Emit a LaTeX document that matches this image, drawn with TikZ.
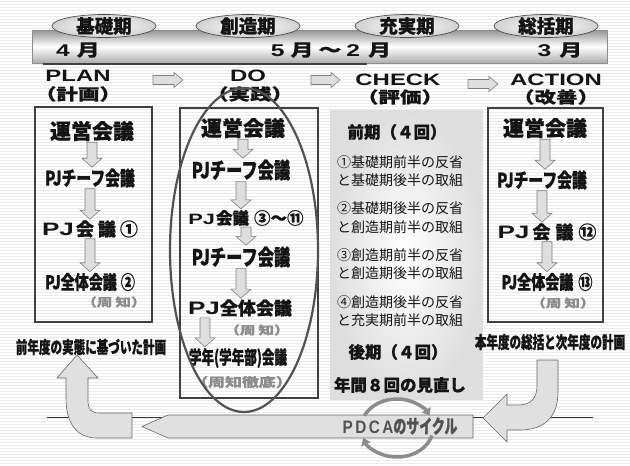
\documentclass[tikz,border=0pt]{standalone}
\usepackage{fontspec}
\usetikzlibrary{calc,arrows.meta,shapes.geometric}
\newfontfamily\jp{Noto Sans CJK JP}[BoldFeatures={FakeBold=0.8}]
\newfontfamily\jpr{Noto Sans CJK JP}
\newfontfamily\jpc{Noto Sans CJK JP}[FakeStretch=0.74, BoldFeatures={FakeBold=0.8}]
\newfontfamily\jpcc{Noto Sans CJK JP}[FakeStretch=0.68, BoldFeatures={FakeBold=0.8}]
\newfontfamily\jpw{Noto Sans CJK JP}[FakeStretch=1.35, BoldFeatures={FakeBold=0.6}]
\newfontfamily\latw{Liberation Sans}[FakeStretch=1.45]
\newfontfamily\latc{Liberation Sans}[FakeStretch=0.85]
\newcommand\blockdn[2]{\draw[barrow] let \p1=(#1), \p2=(#2) in
  (\x1-5pt,\y1-1pt) -- (\x1+5pt,\y1-1pt) -- (\x1+5pt,\y2+10pt) -- (\x1+10pt,\y2+10pt)
  -- (\x1,\y2+1pt) -- (\x1-10pt,\y2+10pt) -- (\x1-5pt,\y2+10pt) -- cycle;}
\newcommand\blockrt[2]{\draw[barrow] let \p1=(#1), \p2=(#2) in
  (\x1,\y1+4.5pt) -- (\x2-9pt,\y1+4.5pt) -- (\x2-9pt,\y1+7.5pt) -- (\x2,\y1)
  -- (\x2-9pt,\y1-7.5pt) -- (\x2-9pt,\y1-4.5pt) -- (\x1,\y1-4.5pt) -- cycle;}
\tikzset{
  txt/.style={inner sep=0pt, text=black!92},
  t20/.style={txt, font=\jp\bfseries\fontsize{21}{24}\selectfont},
  tc20/.style={txt, font=\jpc\bfseries\fontsize{20}{24}\selectfont},
  tc22/.style={txt, font=\jpc\bfseries\fontsize{22}{24}\selectfont},
  tc19/.style={txt, font=\jpc\bfseries\fontsize{19}{22}\selectfont},
  tw17/.style={txt, font=\jp\bfseries\fontsize{18}{20}\selectfont},
  tw16/.style={txt, font=\jp\bfseries\fontsize{16.5}{20}\selectfont},
  tcc18/.style={txt, font=\jpcc\bfseries\fontsize{18.5}{20}\selectfont},
  tcc17/.style={txt, font=\jpcc\bfseries\fontsize{17}{18}\selectfont},
  tc17/.style={txt, font=\jpcc\bfseries\fontsize{17}{18}\selectfont},
  note/.style={txt, text=black!45, font=\jpw\bfseries\fontsize{11.5}{14}\selectfont},
  notel/.style={txt, text=black!45, font=\jpw\bfseries\fontsize{12.5}{14}\selectfont},
  ck/.style={txt, font=\jp\bfseries\fontsize{16.5}{20}\selectfont},
  cktxt/.style={txt, align=left, font=\jpr\fontsize{14}{18.5}\selectfont},
  month/.style={txt, font=\jpw\bfseries\fontsize{17}{20}\selectfont},
  head/.style={txt, font=\latw\bfseries\fontsize{16.5}{20}\selectfont},
  headj/.style={txt, font=\jpw\bfseries\fontsize{16}{20}\selectfont},
  pell/.style={ellipse, draw=black!70, line width=0.7pt, shading=radial, inner color=white, outer color=black!18, minimum width=104pt, minimum height=23pt, inner sep=0pt},
  plbl/.style={txt, font=\jp\bfseries\fontsize{18.5}{20}\selectfont},
  box/.style={draw=black!75, line width=2pt},
  barrow/.style={draw=black!50, fill=black!13, line width=0.6pt},
  bigarrow/.style={draw=black!60, fill=black!12, line width=0.6pt},
  cyc/.style={draw=black!45, line width=3.5pt, -{Triangle[length=7pt,width=10pt]}},
  bigell/.style={draw=black!68, line width=2.2pt},
}
\begin{document}
\begin{tikzpicture}[x=1pt,y=-1pt]
\useasboundingbox (0,0) rectangle (630,466);
\fill[white] (0,0) rectangle (630,466);
\foreach \y in {1.5,4.5,...,466} \draw[black!8, line width=1.2pt] (0,\y) -- (630,\y);

% top time bar
\shade[top color=black!42, bottom color=black!32, middle color=white] (32,30) rectangle (607,63);
\draw[black!45, line width=0.6pt] (32,30) rectangle (607,63);
\draw[black!75, line width=2pt] (43,64) -- (367,64);

\node[pell] (e1) at (104,26) {};
\node[pell] (e2) at (248,26) {};
\node[pell] (e3) at (407,26) {};
\node[pell] (e4) at (546,26) {};
\node[plbl] (e1t) at (e1) {基礎期};
\node[plbl] (e2t) at (e2) {創造期};
\node[plbl] (e3t) at (e3) {充実期};
\node[plbl] (e4t) at (e4) {総括期};

\node[month] (m1) at (78,50) {{\latw 4}\hspace{7pt}月};
\node[month] (m2) at (331,50) {{\latw 5}\hspace{6pt}月\hspace{5pt}～\hspace{5pt}{\latw 2}\hspace{8pt}月};
\node[month] (m3) at (560,50) {{\latw 3}\hspace{8pt}月};

% headings
\node[head] (hp) at (78,76) {PLAN};
\node[headj] (hp2) at (78,94) {（計画）};
\node[head] (hd) at (248,76) {DO};
\node[headj] (hd2) at (250,94) {（実践）};
\node[head] (hc) at (398,80) {CHECK};
\node[headj] (hc2) at (400,97) {（評価）};
\node[head] (ha) at (556,80) {ACTION};
\node[headj] (ha2) at (556,97) {（改善）};
\blockrt{153,80}{183,80}
\blockrt{311,80}{340,80}
\blockrt{468,84}{498,84}

% boxes
\draw[box] (35,107) rectangle (152,322);
\draw[box] (180,108) rectangle (318,398);
\draw[box] (488,108) rectangle (603,322);
\shade[inner color=white, outer color=black!13] (330,110) rectangle (483,399);

% PLAN
\node[t20] (p1) at (92,131) {運営会議};
\node[tc20] (p2) at (90,178) {PJチーフ会議};
\node[tw17] (p3) at (90,229) {{\latw PJ}\hspace{2pt}会\hspace{4pt}議\hspace{4pt}①};
\node[tc19] (p4) at (90,282) {PJ全体会議\hspace{4pt}②};
\node[note] (p5) at (114,302) {（周\hspace{3pt}知）};
\blockdn{p1.south}{p2.north}
\blockdn{p2.south}{p3.north}
\blockdn{p3.south}{p4.north}
\node[tc17] (l1) at (91,347) {前年度の実態に基づいた計画};

% DO
\node[t20] (d1) at (243,128) {運営会議};
\node[tc22] (d2) at (241,170) {PJチーフ会議};
\node[tw16] (d3) at (246,218) {{\latw\fontsize{15}{18}\selectfont PJ}\hspace{1pt}会議\hspace{5pt}③～⑪};
\node[tc22] (d4) at (241,257) {PJチーフ会議};
\node[tw17] (d5) at (240,308) {{\latw PJ}全体会議};
\node[note] (d6) at (257,330) {（周\hspace{3pt}知）};
\node[tcc18] (d7) at (238,358) {学年(学年部)会議};
\node[notel] (d8) at (242,382) {（周知徹底）};
\blockdn{d1.south}{d2.north}
\blockdn{d2.south}{d3.north}
\blockdn{d3.south}{d4.north}
\blockdn{d4.south}{d5.north}
\blockdn{[xshift=-35pt]d5.south}{d7.north}

% CHECK
\node[ck] (c0) at (397,132) {前期（４回）};
\node[cktxt] (c1) at (400,171) {①基礎期前半の反省\\と基礎期後半の取組};
\node[cktxt] (c2) at (400,217.5) {②基礎期後半の反省\\と創造期前半の取組};
\node[cktxt] (c3) at (400,264) {③創造期前半の反省\\と創造期後半の取組};
\node[cktxt] (c4) at (400,311) {④創造期後半の反省\\と充実期前半の取組};
\node[ck] (c5) at (398,352) {後期（４回）};
\node[ck] (c6) at (400,385) {年間８回の見直し};

% ACTION
\node[t20] (a1) at (545,128) {運営会議};
\node[tc20] (a2) at (542,180) {PJチーフ会議};
\node[tw17] (a3) at (547,232) {{\latw PJ}\hspace{3pt}会\hspace{5pt}議\hspace{5pt}⑫};
\node[tc19] (a4) at (547,282) {PJ全体会議\hspace{5pt}⑬};
\node[note] (a5) at (563,303) {（周\hspace{3pt}知）};
\blockdn{a1.south}{a2.north}
\blockdn{a2.south}{a3.north}
\blockdn{a3.south}{a4.north}
\node[tc17] (l2) at (550,342) {本年度の総括と次年度の計画};

% DO ellipse
\draw[bigell] (244,250) ellipse [x radius=74, y radius=162];

% bottom cycle
\draw[black!80, line width=0.8pt] (47,417) -- (593,417);
\draw[bigarrow] (142,426.5) -- (168,415) -- (473,415) -- (473,438) -- (168,438) -- cycle;
\draw[bigarrow] (77,355) -- (98,378) -- (88,378) -- (88,401) .. controls (88,409) and (91,413) .. (99,413)
  -- (132,413) -- (132,438) -- (97,438) .. controls (78,438) and (66,425) .. (66,398) -- (66,378) -- (57,378) -- cycle;
\draw[bigarrow] (537,360) -- (558,360) -- (558,392) .. controls (558,418) and (543,430) .. (520,430)
  -- (507,430) -- (507,442) -- (483,418) -- (507,394) -- (507,405) -- (518,405)
  .. controls (531,405) and (537,398) .. (537,386) -- cycle;
\draw[cyc] (397,428) ++(205:36 and 29) arc[start angle=205, end angle=335, x radius=36, y radius=29];
\draw[cyc] (397,428) ++(15:36 and 29) arc[start angle=15, end angle=160, x radius=36, y radius=29];
\node[txt, text=black!68, font=\latc\bfseries\fontsize{18}{20}\selectfont] (pd) at (400,426)
  {P\hspace{2.5pt}D\hspace{2.5pt}C\hspace{2.5pt}A{\jpcc\fontsize{19}{20}\selectfont のサイクル}};
\end{tikzpicture}
\end{document}
